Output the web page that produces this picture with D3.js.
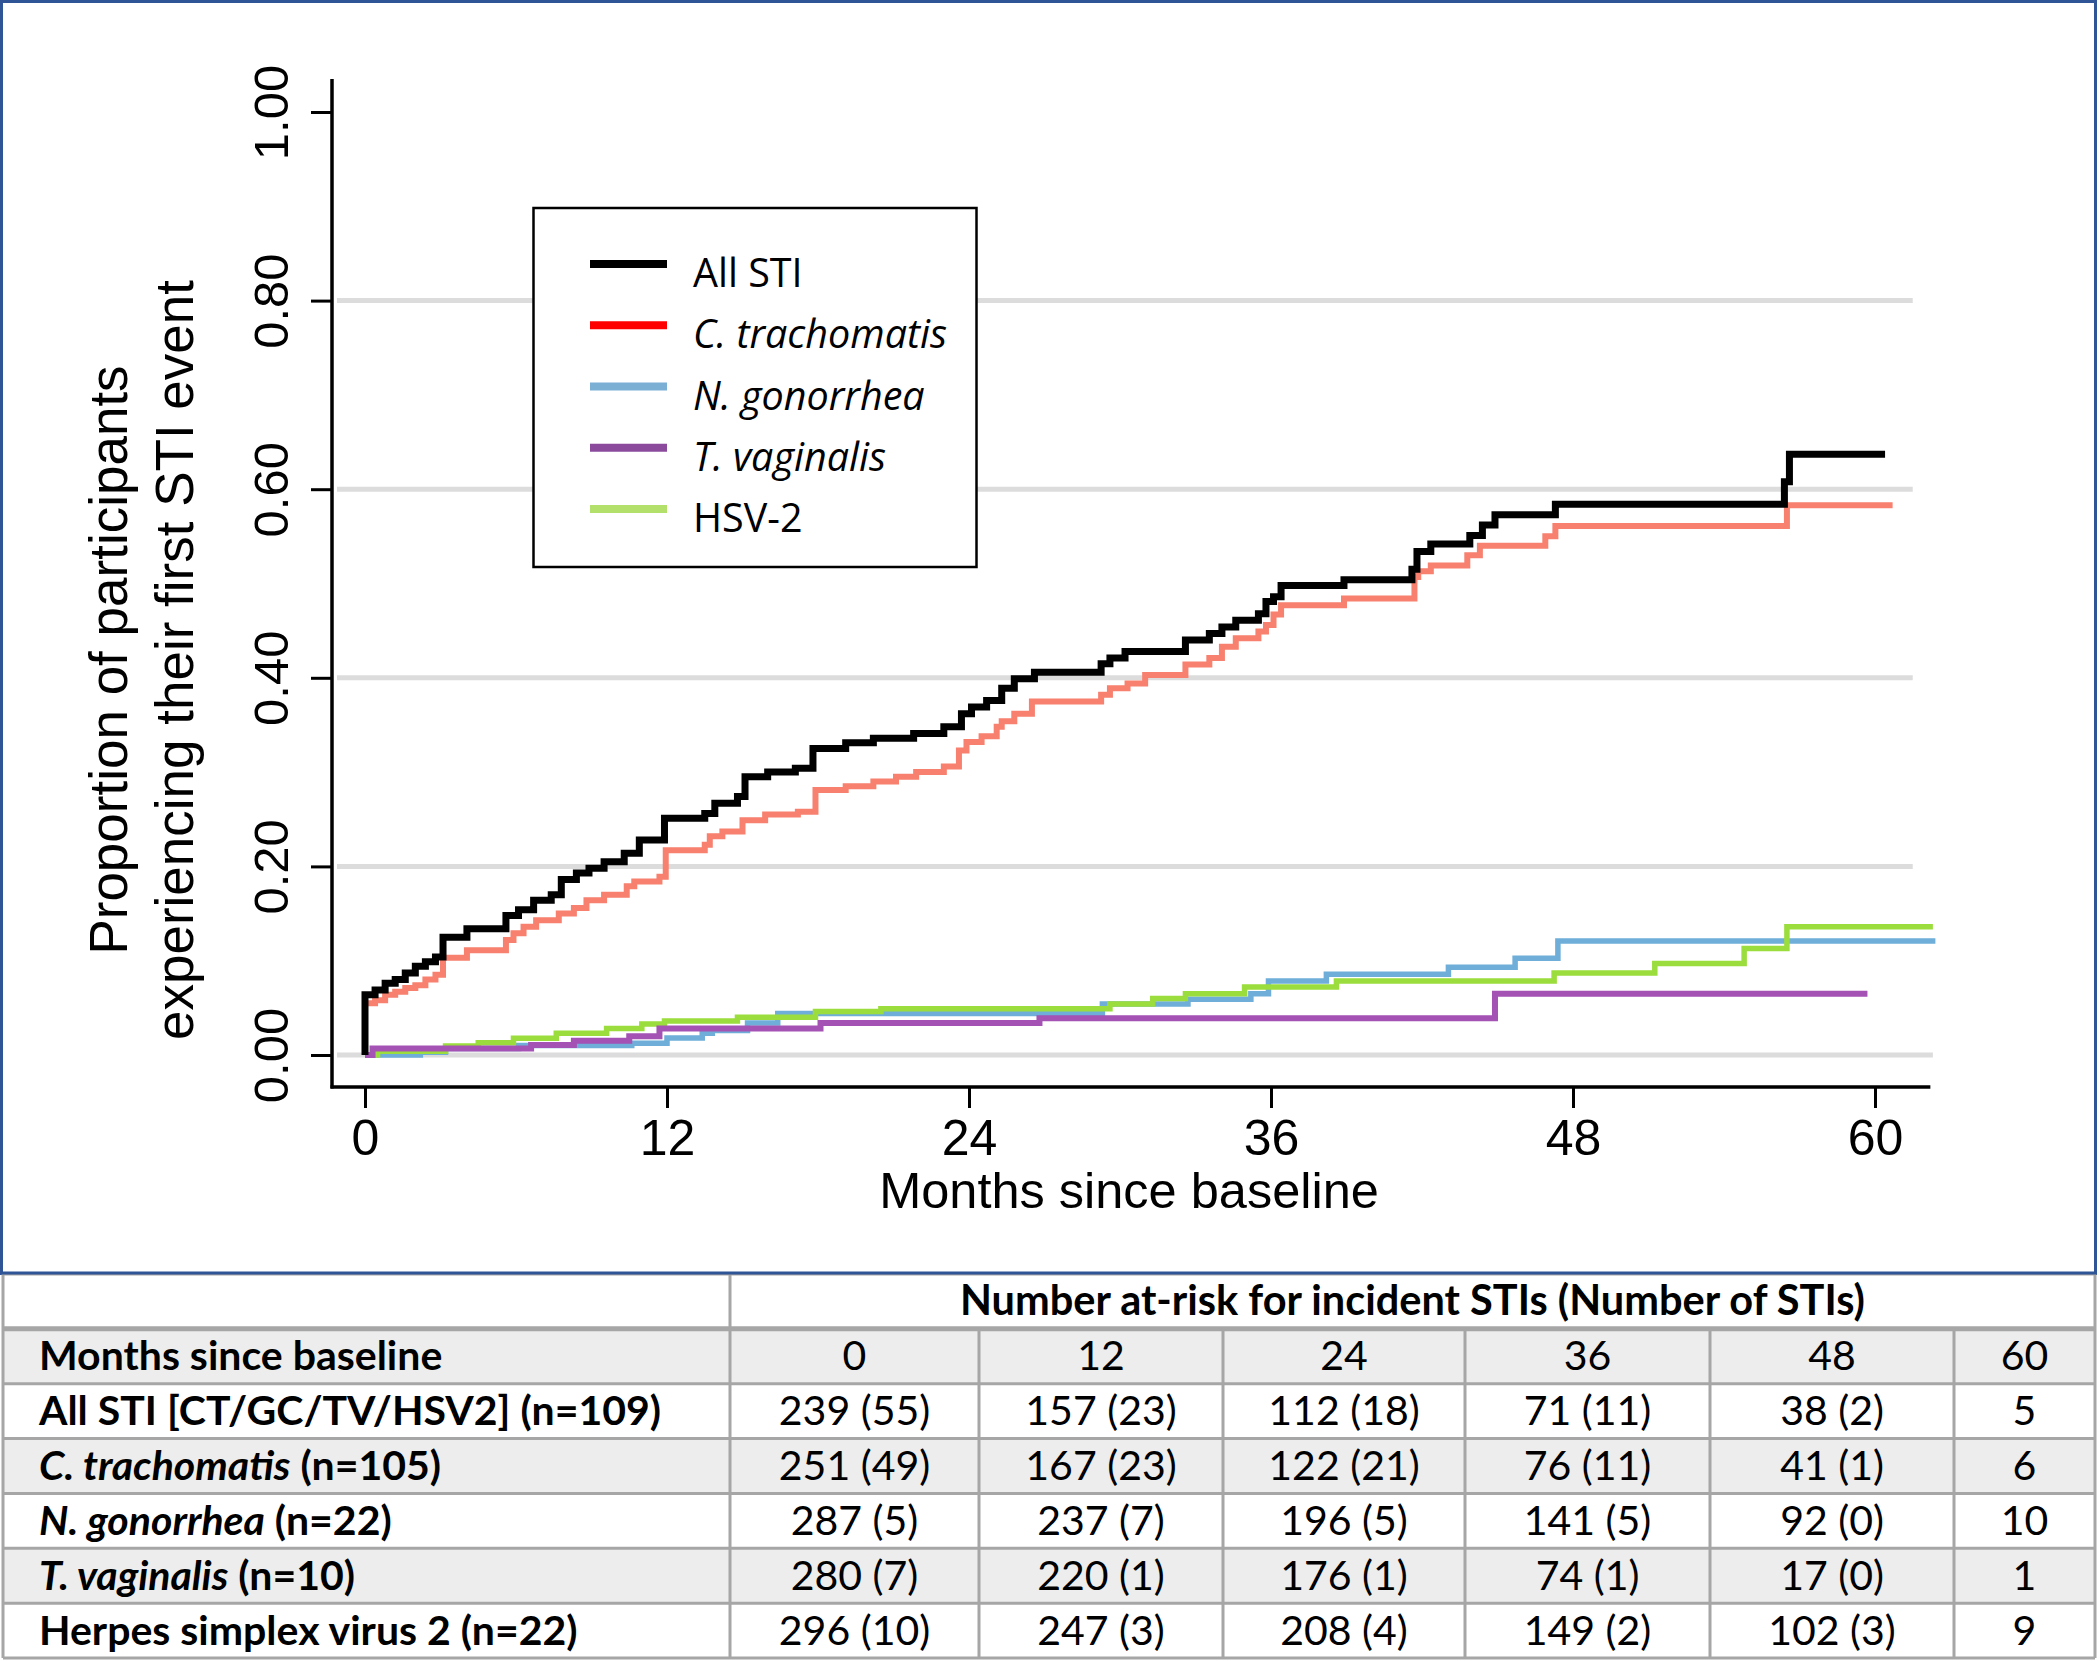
<!DOCTYPE html>
<html>
<head>
<meta charset="utf-8">
<script src="https://cdn.jsdelivr.net/npm/d3@7"></script>
<style>
  html, body { margin: 0; padding: 0; background: #fff; }
  svg { display: block; }
</style>
</head>
<body>
<svg id="chart" width="2100" height="1661"></svg>
<script>
// ---- data ----
const seriesNames = ["All STI", "C. trachomatis", "N. gonorrhea", "T. vaginalis", "HSV-2"];
const seriesItalic = [false, true, true, true, false];
const lineColors = ["#000000", "#f7806f", "#6faed8", "#a452b4", "#9bdd3d"];
const legendColors = ["#000000", "#ff0000", "#7bafd4", "#8b4a9c", "#b3df6b"];

// cumulative proportion, [month, value] at each step
const allSTI = [[0,0],[0,0.064],[0.4,0.069],[0.8,0.076],[1.2,0.080],[1.6,0.087],[2.0,0.094],[2.4,0.099],[2.8,0.104],[3.1,0.125],[4.05,0.134],[5.6,0.148],[6.1,0.154],[6.7,0.164],[7.4,0.170],[7.8,0.186],[8.4,0.193],[8.9,0.198],[9.5,0.205],[10.3,0.214],[10.9,0.228],[11.9,0.251],[13.5,0.256],[13.9,0.267],[14.8,0.274],[15.1,0.295],[16.0,0.300],[17.1,0.304],[17.8,0.325],[19.1,0.331],[20.2,0.336],[21.8,0.341],[23.0,0.348],[23.7,0.362],[24.1,0.369],[24.7,0.376],[25.3,0.389],[25.8,0.399],[26.6,0.406],[29.25,0.415],[29.6,0.421],[30.2,0.428],[32.6,0.440],[33.55,0.447],[34.05,0.454],[34.6,0.461],[35.5,0.468],[35.8,0.481],[36.1,0.486],[36.4,0.498],[38.9,0.504],[41.6,0.515],[41.8,0.534],[42.35,0.542],[43.9,0.551],[44.4,0.562],[44.9,0.573],[47.3,0.584],[56.4,0.608],[56.6,0.637],[60.4,0.637]];
const trachomatis = [[0,0],[0,0.055],[0.4,0.058],[0.8,0.064],[1.2,0.067],[1.6,0.071],[2.0,0.074],[2.4,0.080],[2.8,0.085],[3.1,0.103],[4.05,0.111],[5.6,0.122],[5.9,0.129],[6.3,0.136],[6.8,0.143],[7.7,0.150],[8.3,0.156],[8.8,0.164],[9.5,0.170],[10.4,0.179],[10.7,0.184],[11.7,0.189],[11.95,0.217],[13.5,0.223],[13.7,0.232],[14.2,0.237],[15.0,0.249],[15.9,0.255],[17.2,0.258],[17.9,0.281],[19.1,0.285],[20.2,0.290],[21.1,0.295],[21.9,0.300],[23.0,0.306],[23.6,0.323],[23.9,0.332],[24.5,0.338],[25.1,0.348],[25.3,0.354],[25.8,0.362],[26.5,0.375],[29.25,0.382],[29.6,0.389],[30.3,0.394],[31.0,0.403],[32.6,0.414],[33.55,0.421],[34.05,0.433],[34.6,0.442],[35.5,0.449],[35.8,0.456],[36.1,0.467],[36.4,0.477],[38.9,0.484],[41.7,0.507],[41.85,0.513],[42.35,0.519],[43.8,0.530],[44.3,0.540],[46.9,0.550],[47.3,0.561],[56.5,0.583],[60.7,0.583]];
const gonorrhea = [[0,0],[2.2,0.003],[3.2,0.007],[6.1,0.010],[10.6,0.0125],[12.0,0.018],[13.4,0.023],[13.8,0.026],[15.2,0.034],[16.4,0.044],[29.3,0.054],[32.7,0.059],[35.2,0.065],[35.9,0.0785],[38.2,0.0856],[43.05,0.093],[45.7,0.1025],[47.4,0.121],[62.4,0.121]];
const vaginalis = [[0,0],[0.3,0.007],[6.6,0.0106],[8.3,0.015],[10.5,0.020],[11.7,0.028],[18.1,0.034],[26.8,0.039],[44.9,0.065],[59.7,0.065]];
const hsv2 = [[0,0],[0.5,0.004],[3.2,0.0095],[4.5,0.013],[5.9,0.0177],[7.6,0.023],[9.6,0.028],[11.0,0.033],[11.9,0.036],[14.8,0.040],[17.9,0.046],[20.5,0.049],[29.6,0.054],[31.3,0.060],[32.6,0.065],[34.95,0.072],[38.6,0.0785],[47.25,0.087],[51.25,0.097],[54.8,0.113],[56.5,0.136],[62.3,0.136]];

const seriesData = [allSTI, trachomatis, gonorrhea, vaginalis, hsv2];
const drawOrder = [2, 4, 3, 1, 0];

const xTicks = [0, 12, 24, 36, 48, 60];
const yTicks = [0, 0.2, 0.4, 0.6, 0.8, 1];
const gridValues = [0, 0.2, 0.4, 0.6, 0.8];
const xTitle = "Months since baseline";
const yTitle = ["Proportion of participants", "experiencing their first STI event"];

// at-risk table
const tableTitle = "Number at-risk for incident STIs (Number of STIs)";
const tableMonths = [0, 12, 24, 36, 48, 60];
const rowItalic = ["", "C. trachomatis", "N. gonorrhea", "T. vaginalis", ""];
const rowPlain = ["All STI [CT/GC/TV/HSV2] (n=109)", " (n=105)", " (n=22)", " (n=10)", "Herpes simplex virus 2 (n=22)"];
const atRiskAll = [239, 157, 112, 71, 38, 5];
const eventsAll = [55, 23, 18, 11, 2];
const atRiskCT = [251, 167, 122, 76, 41, 6];
const eventsCT = [49, 23, 21, 11, 1];
const atRiskGC = [287, 237, 196, 141, 92, 10];
const eventsGC = [5, 7, 5, 5, 0];
const atRiskTV = [280, 220, 176, 74, 17, 1];
const eventsTV = [7, 1, 1, 1, 0];
const atRiskHSV = [296, 247, 208, 149, 102, 9];
const eventsHSV = [10, 3, 4, 2, 3];
const atRisk = [atRiskAll, atRiskCT, atRiskGC, atRiskTV, atRiskHSV];
const events = [eventsAll, eventsCT, eventsGC, eventsTV, eventsHSV];

// ---- drawing ----
const svg = d3.select("#chart");
const axisFont = "'Liberation Sans', Arial, Helvetica, sans-serif";
const legendFont = "'Open Sans', 'Noto Sans', sans-serif";
const tableFont = "Lato, 'Open Sans', sans-serif";

svg.append("rect").attr("width", 2100).attr("height", 1661).attr("fill", "#fff");

var x = d3.scaleLinear().domain([0, 60]).range([365, 1875]);
var y = d3.scaleLinear().domain([0, 1]).range([1055, 112]);
const axisX = 332, axisY = 1087;

// blue frame around the graph
svg.append("rect")
  .attr("x", 1.5).attr("y", 1.5).attr("width", 2094).attr("height", 1272)
  .attr("fill", "none").attr("stroke", "#2f5597").attr("stroke-width", 3);

// gridlines
svg.append("g").selectAll("line").data(gridValues).join("line")
  .attr("x1", 337)
  .attr("x2", d => d === 0 ? x(62.3) : x(61.5))
  .attr("y1", d => y(d)).attr("y2", d => y(d))
  .attr("stroke", "#dcdcdc").attr("stroke-width", 5);

// step curves
var line = d3.line()
  .x(d => x(d[0]))
  .y(d => y(d[1]))
  .curve(d3.curveStepAfter);

const widths = [7, 6, 5.5, 6, 5.5];
drawOrder.forEach(function(i) {
  svg.append("path")
    .datum(seriesData[i])
    .attr("fill", "none")
    .attr("stroke", lineColors[i])
    .attr("stroke-width", widths[i])
    .attr("d", line);
});

// axes
var gx = svg.append("g").attr("transform", "translate(0," + axisY + ")")
  .call(d3.axisBottom(x).tickValues(xTicks).tickSize(21).tickFormat(d3.format("d")));
gx.select(".domain").remove();
gx.selectAll(".tick line").attr("stroke", "#000").attr("stroke-width", 3);
gx.selectAll(".tick text")
  .attr("y", 68).attr("dy", 0)
  .attr("font-family", axisFont).attr("font-size", 50).attr("fill", "#000");

var gy = svg.append("g").attr("transform", "translate(" + axisX + ",0)")
  .call(d3.axisLeft(y).tickValues(yTicks).tickSize(21).tickFormat(d3.format(".2f")));
gy.select(".domain").remove();
gy.selectAll(".tick line").attr("stroke", "#000").attr("stroke-width", 3);
gy.selectAll(".tick text")
  .attr("transform", "rotate(-90)")
  .attr("x", 0).attr("y", -44).attr("dy", 0)
  .attr("text-anchor", "middle")
  .attr("font-family", axisFont).attr("font-size", 49).attr("fill", "#000");

svg.append("line")
  .attr("x1", axisX).attr("x2", axisX)
  .attr("y1", y(1.035)).attr("y2", axisY + 1.5)
  .attr("stroke", "#000").attr("stroke-width", 3.5);
svg.append("line")
  .attr("x1", axisX - 1.5).attr("x2", x(62.2))
  .attr("y1", axisY).attr("y2", axisY)
  .attr("stroke", "#000").attr("stroke-width", 3.5);

// axis titles
svg.append("text")
  .attr("x", 1129).attr("y", 1208)
  .attr("text-anchor", "middle")
  .attr("font-family", axisFont).attr("font-size", 50.5)
  .text(xTitle);

yTitle.forEach(function(t, i) {
  svg.append("text")
    .attr("transform", "translate(" + (127 + i * 66) + ",660) rotate(-90)")
    .attr("text-anchor", "middle")
    .attr("font-family", axisFont).attr("font-size", 53)
    .text(t);
});

// legend
var legend = svg.append("g");
legend.append("rect")
  .attr("x", 533.5).attr("y", 208).attr("width", 443).attr("height", 359)
  .attr("fill", "#fff").attr("stroke", "#000").attr("stroke-width", 2.5);
var ly = d3.scalePoint().domain(d3.range(seriesNames.length)).range([264, 509]);
seriesNames.forEach(function(name, i) {
  legend.append("line")
    .attr("x1", 590).attr("x2", 667)
    .attr("y1", ly(i)).attr("y2", ly(i))
    .attr("stroke", legendColors[i]).attr("stroke-width", 8);
  legend.append("text")
    .attr("x", 693).attr("y", ly(i) + 23)
    .attr("font-family", legendFont).attr("font-size", 39.5)
    .attr("font-style", seriesItalic[i] ? "italic" : "normal")
    .text(name);
});

// ---- at-risk table ----
const colEdges = [3, 730, 979, 1223, 1465, 1710, 1954, 2095];
var rowBand = d3.scaleBand().domain(d3.range(7)).range([1274, 1658]);
var table = svg.append("g");

// row fills: months row and every other species row are shaded
d3.range(7).forEach(function(r) {
  table.append("rect")
    .attr("x", colEdges[0]).attr("y", rowBand(r))
    .attr("width", colEdges[7] - colEdges[0]).attr("height", rowBand.bandwidth())
    .attr("fill", (r === 1 || r === 3 || r === 5) ? "#ededed" : "#ffffff");
});

const gridGray = "#a6a6a6";
d3.range(8).forEach(function(r) {
  var yy = r < 7 ? rowBand(r) : rowBand(6) + rowBand.bandwidth();
  table.append("line")
    .attr("x1", colEdges[0]).attr("x2", colEdges[7])
    .attr("y1", yy).attr("y2", yy)
    .attr("stroke", gridGray).attr("stroke-width", r === 1 ? 5 : 3);
});
colEdges.forEach(function(cx, c) {
  var top = (c === 0 || c === 1 || c === 7) ? rowBand(0) : rowBand(1);
  table.append("line")
    .attr("x1", cx).attr("x2", cx)
    .attr("y1", top).attr("y2", rowBand(6) + rowBand.bandwidth())
    .attr("stroke", gridGray).attr("stroke-width", 3);
});
// blue line under the graph frame
table.append("line")
  .attr("x1", 0).attr("x2", 2097).attr("y1", 1273).attr("y2", 1273)
  .attr("stroke", "#2f5597").attr("stroke-width", 3);

function baseline(r) { return rowBand(r) + rowBand.bandwidth() / 2 + 14; }

table.append("text")
  .attr("x", (colEdges[1] + colEdges[7]) / 2).attr("y", baseline(0))
  .attr("text-anchor", "middle")
  .attr("font-family", tableFont).attr("font-size", 41.5).attr("font-weight", "bold")
  .text(tableTitle);

table.append("text")
  .attr("x", 39).attr("y", baseline(1))
  .attr("font-family", tableFont).attr("font-size", 41).attr("font-weight", "bold")
  .text("Months since baseline");

tableMonths.forEach(function(m, c) {
  table.append("text")
    .attr("x", (colEdges[c + 1] + colEdges[c + 2]) / 2).attr("y", baseline(1))
    .attr("text-anchor", "middle")
    .attr("font-family", tableFont).attr("font-size", 41)
    .text(m);
});

rowPlain.forEach(function(plain, i) {
  var t = table.append("text")
    .attr("x", 39).attr("y", baseline(i + 2))
    .attr("font-family", tableFont).attr("font-size", 41).attr("font-weight", "bold");
  if (rowItalic[i]) t.append("tspan").attr("font-style", "italic").text(rowItalic[i]);
  t.append("tspan").text(plain);

  atRisk[i].forEach(function(n, c) {
    table.append("text")
      .attr("x", (colEdges[c + 1] + colEdges[c + 2]) / 2).attr("y", baseline(i + 2))
      .attr("text-anchor", "middle")
      .attr("font-family", tableFont).attr("font-size", 41)
      .text(c < events[i].length ? n + " (" + events[i][c] + ")" : n);
  });
});
</script>
</body>
</html>
